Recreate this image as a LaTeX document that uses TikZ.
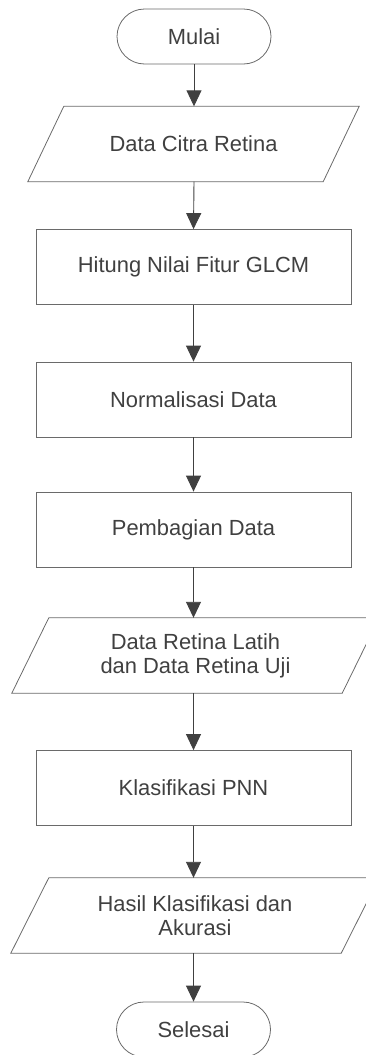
\documentclass[tikz,border=0pt]{standalone}
\usepackage{fontspec}
\setmainfont{Liberation Sans}
\usetikzlibrary{shapes.misc,arrows.meta}
\definecolor{ink}{HTML}{404040}
\definecolor{edge}{HTML}{6A6A6A}
\begin{document}
\begin{tikzpicture}[x=1pt,y=-1pt,
  every node/.style={text=ink,font=\fontsize{21.9}{24}\selectfont,align=center,inner sep=0pt},
  term/.style={draw=edge,line width=0.8pt,rounded rectangle,minimum width=154pt,minimum height=55pt},
  procbox/.style={draw=edge,line width=0.8pt,rectangle,minimum width=315pt,minimum height=75pt},
  iobox/.style={rectangle,minimum width=#1,minimum height=75pt},
  flow/.style={draw=ink,line width=0.9pt,-{Triangle[length=16pt,width=15pt]}}]
\useasboundingbox (0,0) rectangle (366,1055);

\node[term] (start) at (194,36.5) {Mulai};
\node[iobox=295pt] (in1) at (193.5,144) {Data Citra Retina};
\node[procbox] (glcm) at (193.5,267) {Hitung Nilai Fitur GLCM};
\node[procbox] (norm) at (193.5,399.5) {Normalisasi Data};
\node[procbox] (split) at (193.5,529.5) {Pembagian Data};
\node[iobox=330pt] (in2) at (195.5,655.5) {Data Retina Latih\\dan Data Retina Uji};
\node[procbox] (pnn) at (193.5,788) {Klasifikasi PNN};
\node[iobox=330pt] (out) at (195,915.5) {Hasil Klasifikasi dan\\Akurasi};
\node[term] (stop) at (193.5,1029.5) {Selesai};

% parallelogram outlines: top edge shifted right, bottom edge shifted left
\foreach \n/\s in {in1/18, in2/18.5, out/19}{
  \draw[edge,line width=0.8pt]
    ([xshift=\s pt]\n.north west) -- ([xshift=\s pt]\n.north east)
    -- ([xshift=-\s pt]\n.south east) -- ([xshift=-\s pt]\n.south west) -- cycle;
}

\draw[flow] (start.south) -- (start.south |- in1.north);
\draw[flow] (start.south |- in1.south) -- (glcm.north);
\draw[flow] (glcm.south) -- (norm.north);
\draw[flow] (norm.south) -- (split.north);
\draw[flow] (split.south) -- (split.south |- in2.north);
\draw[flow] (split.south |- in2.south) -- (pnn.north);
\draw[flow] (pnn.south) -- (pnn.south |- out.north);
\draw[flow] (pnn.south |- out.south) -- (stop.north);
\end{tikzpicture}
\end{document}
